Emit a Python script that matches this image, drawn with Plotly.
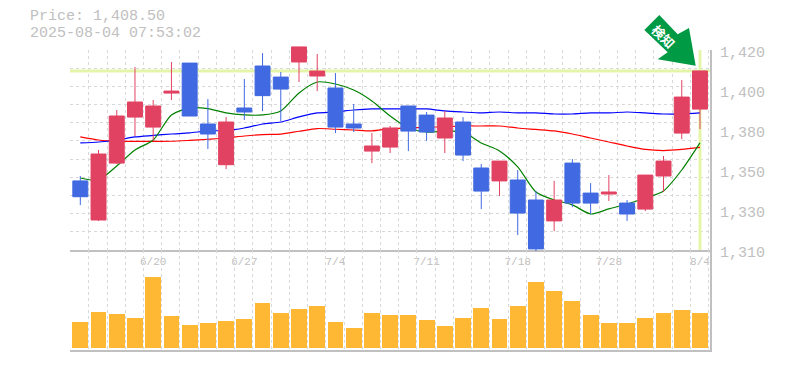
import plotly.graph_objects as go

W, H = 785, 370

dates = ["6/16","6/17","6/18","6/19","6/20","6/23","6/24","6/25","6/26","6/27",
         "6/30","7/1","7/2","7/3","7/4","7/7","7/8","7/9","7/10","7/11",
         "7/14","7/15","7/16","7/17","7/18","7/22","7/23","7/24","7/25","7/28",
         "7/29","7/30","7/31","8/1","8/4"]
opens = [1348,1326.5,1357.8,1383.1,1377.6,1396.3,1412.8,1379.3,1356.9,1388.1,
         1411.2,1405.1,1413.4,1405.7,1399.1,1379.3,1364.4,1366.6,1389.2,1384.2,
         1371.6,1380.4,1355.1,1348,1348.5,1337.5,1326,1357.8,1341.3,1340.8,
         1335.8,1332.5,1350.7,1374.3,1387.5]
highs = [1350.7,1365,1387,1410.6,1392.5,1413.4,1412.8,1393,1383.1,1404,
         1418.3,1407.9,1421.7,1417.8,1407.3,1390.3,1374.3,1378.2,1389.2,1385.9,
         1386.4,1383.1,1357.3,1358.9,1354,1342.4,1348,1360,1346.8,1351.2,
         1337.5,1351.2,1361.7,1403.5,1408.5]
lows = [1334.7,1326,1357.3,1372.7,1370,1392.5,1383.7,1365.5,1354.5,1381.5,
        1386.4,1381,1402.4,1397.4,1374.3,1374.9,1357.8,1363.3,1364.4,1370,
        1363.3,1358.9,1332.5,1339.7,1318.2,1309.4,1320.4,1333.6,1329.8,1337,
        1326,1331.4,1341.9,1371,1376.5]
closes = [1339.3,1362.8,1383.7,1391.4,1389.2,1397.4,1383.7,1373.8,1380.4,1385.9,
          1394.9,1398.5,1421.7,1408.4,1377.6,1377.1,1367.2,1377.1,1375.4,1374.9,
          1382.6,1362.2,1342.4,1358.9,1330.3,1310.6,1337.5,1335.8,1335.8,1341.9,
          1329.8,1351.2,1358.9,1394.1,1408.5]
ma_short = [1349.6,1348.5,1356.2,1365,1370.5,1384.3,1388.1,1387.8,1385.4,1384.3,
            1384.3,1386.5,1396.4,1402.4,1401.3,1398,1392,1383.7,1377.1,1374.9,
            1375.4,1374.9,1368.9,1364.5,1355.7,1341.9,1337.5,1334.8,1329.8,1332.6,
            1335.3,1338.6,1342.5,1354,1368.9]
ma_mid = [1368.9,1369.4,1370.5,1372.2,1373,1373.8,1374.4,1375.5,1375.7,1377.1,
          1379.3,1380.4,1383.2,1385.4,1385.9,1387,1387.6,1387.6,1387.6,1387.6,
          1386.5,1385.9,1385.4,1385.9,1385.4,1385.4,1384.8,1384.8,1385.4,1385.4,
          1385.9,1385.4,1384.8,1384.8,1385.4]
ma_long = [1372.2,1370.5,1369.8,1369.7,1369.7,1369.8,1370.3,1370.9,1371.6,1372.7,
           1373.5,1373.7,1375.3,1376.8,1376.4,1376,1375.5,1376.7,1377.1,1377.5,
           1377.8,1378.2,1378.2,1378.2,1377.1,1376.3,1375.5,1373.8,1371.6,1369.4,
           1367.2,1365.3,1364.7,1365.3,1366.4]
volumes = [260,360,340,300,710,320,230,250,270,290,450,350,390,420,260,200,350,330,
           330,280,220,300,400,290,420,660,570,470,330,250,250,300,350,380,350]
label_dates = ["6/20","6/27","7/4","7/11","7/18","7/28","8/4"]
price_ticks = [1420,1398,1376,1354,1332,1310]
price_labels = ["1,420","1,400","1,380","1,350","1,330","1,310"]
last_price = 1408.5
title_lines = ["Price: 1,408.50", "2025-08-04 07:53:02"]
arrow_label = "<b>検知</b>"

GRAY = "#c0c0c0"
GRID = "#d8d8d8"
HILITE = "#e4f5aa"
RED = "#e24262"
BLUE = "#4169e1"
FONT = "Liberation Mono"

idx = list(range(len(dates)))
x_range = [-0.565, 34.55]
px = lambda v: 1 - v / H   # vertical pixel -> paper fraction
xd = [70 / W, 710 / W]

fig = go.Figure()

fig.add_trace(go.Scatter(x=[x_range[0], x_range[1]], y=[last_price, last_price], mode="lines",
                         line=dict(color=HILITE, width=3), hoverinfo="skip", showlegend=False))
fig.add_trace(go.Scatter(x=[idx[-1], idx[-1]], y=[price_ticks[0], price_ticks[-1]], mode="lines",
                         line=dict(color=HILITE, width=3), hoverinfo="skip", showlegend=False))
for vals, col in [(ma_long, "#ff0000"), (ma_mid, "#0000ff"), (ma_short, "#008000")]:
    fig.add_trace(go.Scatter(x=idx, y=vals, mode="lines",
                             line=dict(color=col, width=1.2, shape="spline", smoothing=0.7),
                             showlegend=False))

fig.add_trace(go.Bar(x=idx, y=volumes, xaxis="x2", yaxis="y2", width=0.87,
                     marker=dict(color="#ffb833", line=dict(width=0)), showlegend=False))

fig.add_trace(go.Candlestick(x=idx, open=opens, high=highs, low=lows, close=closes,
                             xaxis="x3", yaxis="y3", whiskerwidth=0,
                             increasing=dict(line=dict(color=RED, width=1), fillcolor=RED),
                             decreasing=dict(line=dict(color=BLUE, width=1), fillcolor=BLUE),
                             showlegend=False))

minor_x = dict(showgrid=True, gridcolor=GRID, griddash="3px,3px", gridwidth=1,
               tick0=-0.53, dtick=1, ticks="")
fig.update_layout(
    width=W, height=H, margin=dict(l=0, r=0, t=0, b=0, autoexpand=False),
    paper_bgcolor="white", plot_bgcolor="rgba(0,0,0,0)",
    showlegend=False, boxgap=0.18, boxgroupgap=0, bargap=0,
    font=dict(family=FONT, color=GRAY),
    xaxis=dict(domain=xd, range=x_range, anchor="y", showgrid=False, minor=minor_x,
               tickmode="array", tickvals=[dates.index(d) for d in label_dates], ticktext=label_dates,
               tickfont=dict(size=11, color=GRAY, family=FONT), ticks="", showline=True,
               linecolor=GRAY, linewidth=2, zeroline=False),
    yaxis=dict(domain=[px(250), px(50)], range=[1310, 1420], anchor="x", side="right",
               tickmode="array", tickvals=price_ticks, ticktext=price_labels, showgrid=False,
               minor=dict(showgrid=True, gridcolor=GRID, griddash="3px,3px", gridwidth=1,
                          tick0=1310, dtick=10, ticks=""),
               tickfont=dict(size=15, color=GRAY, family=FONT), ticks="", ticklabelstandoff=5,
               ticklabelshift=2, showline=True, linecolor=GRAY, linewidth=2, zeroline=False),
    xaxis2=dict(domain=xd, range=x_range, anchor="y2", showgrid=False, minor=minor_x,
                showticklabels=False, ticks="", showline=True, linecolor=GRAY, linewidth=2,
                zeroline=False),
    yaxis2=dict(domain=[px(350), px(250)], range=[-20, 980], anchor="x2", side="right",
                showgrid=False, showticklabels=False, ticks="", showline=True, linecolor=GRAY,
                linewidth=2, zeroline=False),
    xaxis3=dict(domain=xd, range=x_range, anchor="y3", visible=False, rangeslider=dict(visible=False)),
    yaxis3=dict(domain=[px(255), px(40)], range=[1420 - (255 - 50) * 0.55, 1420 + 10 * 0.55],
                anchor="x3", visible=False),
    hovermode=False,
    shapes=[dict(type="path", xref="paper", yref="paper", layer="above",
                 path="M {} {} L {} {} L {} {} L {} {} L {} {} L {} {} L {} {} Z".format(
                     *[c for p in [(659.3, 15), (644.3, 30), (667.7, 52.3), (657.7, 59.3),
                                   (695.7, 65.7), (689, 28), (677.7, 34.3)]
                       for c in (p[0] / W, px(p[1]))]),
                 fillcolor="#009944", line=dict(width=0))],
    annotations=[
        dict(text=title_lines[0], xref="paper", yref="paper", x=29 / W, y=px(17), xanchor="left",
             yanchor="middle", showarrow=False, borderpad=0,
             font=dict(size=15, color=GRAY, family=FONT)),
        dict(text=title_lines[1], xref="paper", yref="paper", x=29 / W, y=px(33.5), xanchor="left",
             yanchor="middle", showarrow=False, borderpad=0,
             font=dict(size=15, color=GRAY, family=FONT)),
        dict(text=arrow_label, xref="paper", yref="paper", x=664 / W, y=px(36), xanchor="center",
             yanchor="middle", showarrow=False, textangle=45,
             font=dict(size=13, color="white", family="Noto Sans CJK JP")),
    ],
)
fig.write_html("out.html", config={"displayModeBar": False},
               post_script="document.body.style.margin='0';")
